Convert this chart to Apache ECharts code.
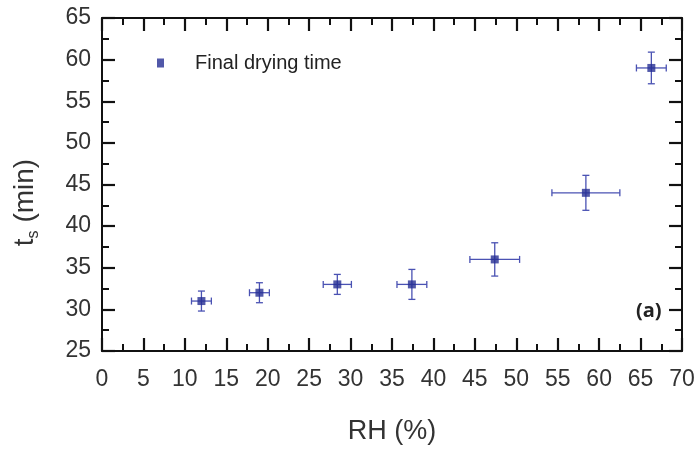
<!DOCTYPE html>
<html><head><meta charset="utf-8">
<script src="https://cdn.jsdelivr.net/npm/echarts@6/dist/echarts.min.js"></script>
<style>html,body{margin:0;background:#fff}#c{width:700px;height:450px}</style>
</head><body><div id="c"></div>
<script>
// Data
const rh     = [12.0, 19.0, 28.4, 37.4, 47.4, 58.4, 66.3];   // RH (%)
const rhErr  = [1.2, 1.2, 1.7, 1.8, 3.0, 4.1, 1.8];
const ts     = [31.0, 32.0, 33.0, 33.0, 36.0, 44.0, 59.0];   // t_s (min)
const tsErr  = [1.2, 1.2, 1.2, 1.8, 2.0, 2.1, 1.9];
const seriesName = 'Final drying time';

const FONT = '"Liberation Sans Narrow", "Liberation Sans", Arial, sans-serif';
const AX = '#111';
const PT = '#262e94';
const ERR = '#4a52b3';

function axisBase(show) {
  return {
    axisLine: {show: true, onZero: false, lineStyle: {color: AX, width: 2}},
    axisTick: {show: true, inside: true, length: 13, lineStyle: {color: AX, width: 2.2}},
    minorTick: {show: true, splitNumber: 2, length: 7, lineStyle: {color: AX, width: 2}},
    splitLine: {show: false},
    minorSplitLine: {show: false},
    axisLabel: {show: show, color: '#333', fontFamily: FONT, fontSize: 23}
  };
}

const chart = echarts.init(document.getElementById('c'), null, {renderer: 'canvas'});
const errData = rh.map((v, i) => [v, ts[i], rhErr[i], tsErr[i]]);
const ptData = rh.map((v, i) => [v, ts[i]]);

chart.setOption({
  animation: false,
  backgroundColor: '#fff',
  grid: {left: 102, right: 18, top: 18, bottom: 97},
  legend: {
    data: [seriesName], left: 152, top: 48,
    itemWidth: 7, itemHeight: 9, icon: 'rect',
    textStyle: {fontFamily: FONT, fontSize: 20, color: '#222', padding: [0, 0, 0, 26]}
  },
  xAxis: [
    Object.assign({type: 'value', min: 0, max: 70, interval: 5, position: 'bottom',
      name: 'RH (%)', nameLocation: 'middle', nameGap: 67,
      nameTextStyle: {fontFamily: FONT, fontSize: 27, color: '#333'}}, axisBase(true),
      {axisLabel: {show: true, color: '#333', fontFamily: FONT, fontSize: 23, margin: 17}}),
    Object.assign({type: 'value', min: 0, max: 70, interval: 5, position: 'top'}, axisBase(false))
  ],
  yAxis: [
    Object.assign({type: 'value', min: 25, max: 65, interval: 5, position: 'left',
      name: 't{s|s} (min)', nameLocation: 'middle', nameGap: 60, nameRotate: 90,
      nameTextStyle: {fontFamily: FONT, fontSize: 28, color: '#333', padding: [0, 36, 0, 0],
        rich: {s: {fontFamily: FONT, fontSize: 16, color: '#333', verticalAlign: 'bottom', padding: [18, 0, 0, 0]}}}},
      axisBase(true),
      {axisLabel: {show: true, color: '#333', fontFamily: FONT, fontSize: 23, margin: 11}}),
    Object.assign({type: 'value', min: 25, max: 65, interval: 5, position: 'right'}, axisBase(false))
  ],
  graphic: [{
    type: 'text', left: 636, top: 301,
    style: {text: '(a)', fontFamily: '"Open Sans", "Liberation Sans", sans-serif', fontWeight: 'bold', fontSize: 20, fill: '#222'}
  }],
  series: [
    {
      type: 'custom', name: 'err', xAxisIndex: 0, yAxisIndex: 0, z: 2,
      data: errData,
      renderItem: function (params, api) {
        const x = api.value(0), y = api.value(1), ex = api.value(2), ey = api.value(3);
        const l = api.coord([x - ex, y]), r = api.coord([x + ex, y]);
        const t = api.coord([x, y + ey]), b = api.coord([x, y - ey]);
        const c = 3.5;
        const st = {stroke: ERR, lineWidth: 1.3};
        const ln = (x1, y1, x2, y2) => ({type: 'line', shape: {x1, y1, x2, y2}, style: st});
        return {type: 'group', children: [
          ln(l[0], l[1], r[0], r[1]),
          ln(l[0], l[1] - c, l[0], l[1] + c),
          ln(r[0], r[1] - c, r[0], r[1] + c),
          ln(t[0], t[1], b[0], b[1]),
          ln(t[0] - c, t[1], t[0] + c, t[1]),
          ln(b[0] - c, b[1], b[0] + c, b[1])
        ]};
      }
    },
    {
      type: 'scatter', name: seriesName, xAxisIndex: 0, yAxisIndex: 0, z: 3,
      symbol: 'rect', symbolSize: 8, itemStyle: {color: PT},
      data: ptData
    }
  ]
});
</script>
</body></html>
